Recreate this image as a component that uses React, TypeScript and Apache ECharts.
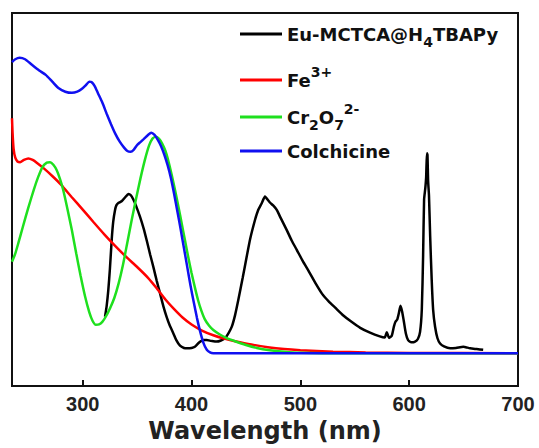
import { useEffect, useRef } from "react";
import * as echarts from "echarts";

// ---- Data ----
const seriesNames = ["Eu-MCTCA@H4TBAPy", "Fe3+", "Cr2O72-", "Colchicine"];
const legendLabels = [
  "{m|Eu-MCTCA@H}{sub|4}{m|TBAPy}",
  "{m|Fe}{sup|3+}",
  "{m|Cr}{sub|2}{m|O}{sub|7}{sup|2-}",
  "{m|Colchicine}",
];
const xTicks = [300, 400, 500, 600, 700];
const xTitle = "Wavelength (nm)";

const euWl = [320.5, 322, 323.5, 325, 326.6, 328, 329.7, 331, 333, 336, 339, 342, 344, 346.5, 349, 352.6, 356, 359, 362, 365, 368, 371, 374, 377, 380, 383.3, 386, 389.4, 393, 396, 400, 403, 406, 408, 411, 414, 418, 423, 427, 431, 434, 437, 440, 443, 447, 450.7, 454, 458.3, 461, 464.5, 467.5, 469, 472, 475, 478.3, 482, 487.5, 492, 496.7, 502, 508, 514, 520, 526, 532, 539.5, 547, 555, 564, 573, 577.5, 579.4, 581.5, 584, 586, 587.5, 589, 590.5, 592, 593.5, 595, 597, 599, 602, 605, 608, 610, 611.6, 612.8, 613.7, 614.8, 615.6, 616.3, 616.8, 617.4, 618.2, 619.3, 620.7, 622, 623.8, 626, 628.4, 632, 637.6, 643, 649.8, 652, 656, 662, 668];
const euVal = [18.6, 21.5, 25.7, 31.5, 39.1, 44.0, 47.2, 48.5, 49.1, 49.6, 50.6, 51.5, 51.2, 50.0, 48.3, 45.4, 42.2, 38.8, 35.2, 31.8, 28.2, 24.9, 21.5, 18.6, 16.2, 14.1, 12.3, 10.8, 10.2, 10.1, 10.2, 10.5, 11.4, 11.9, 12.3, 12.3, 12.1, 11.9, 12.2, 12.9, 14.2, 15.9, 19.0, 23.1, 29.0, 34.7, 39.6, 44.5, 47.0, 49.0, 50.8, 50.3, 49.2, 48.4, 47.2, 45.0, 41.8, 39.0, 36.5, 33.6, 30.6, 27.5, 24.7, 22.7, 21.0, 18.9, 17.2, 15.6, 14.3, 13.3, 13.0, 14.4, 12.9, 13.5, 16.0, 17.3, 17.8, 19.5, 21.5, 20.0, 17.5, 14.0, 12.3, 11.7, 11.8, 12.6, 14.5, 20.5, 35.0, 50.0, 53.0, 56.0, 62.4, 62.0, 55.0, 51.0, 40.0, 28.4, 20.5, 15.9, 12.8, 11.4, 10.6, 10.1, 10.2, 10.5, 10.4, 10.1, 9.9, 9.7];

const feWl = [235, 235.5, 236.5, 238, 240, 242.5, 246, 250, 254, 258, 264, 272, 280, 290, 300, 310, 320, 330, 340, 350, 360, 368, 376, 384, 392, 400, 410, 420, 430, 440, 455, 470, 485, 500, 530, 560, 600, 700];
const feVal = [71.8, 68.0, 63.5, 61.2, 60.2, 60.0, 60.6, 61.0, 60.6, 59.8, 58.4, 56.3, 54.0, 50.6, 47.3, 43.9, 40.6, 37.5, 34.6, 31.9, 29.0, 26.2, 23.2, 20.6, 18.3, 16.5, 14.8, 13.6, 12.7, 12.0, 11.1, 10.4, 9.9, 9.6, 9.2, 9.0, 8.85, 8.8];

const crWl = [235, 238, 241, 245, 250, 255, 259, 263, 267, 270, 273, 276, 279, 282, 286, 290, 294, 298, 302, 306, 309, 312, 315, 318, 321, 325, 329, 333, 337, 341, 345, 349, 353, 357, 361, 364, 367, 370, 373, 376, 379, 382, 385, 388, 391, 394, 397, 400, 403, 406, 409, 412, 416, 420, 426, 432, 440, 450, 460, 472, 485, 500, 520, 700];
const crVal = [33.3, 35.5, 38.5, 42.7, 47.8, 52.6, 56.0, 58.7, 59.9, 60.0, 59.3, 57.9, 55.6, 52.6, 47.4, 41.8, 35.6, 29.6, 24.2, 19.8, 17.5, 16.4, 16.5, 17.2, 18.5, 20.8, 23.6, 27.5, 32.5, 38.5, 44.5, 50.2, 55.6, 60.5, 64.5, 66.3, 66.8, 66.3, 65.0, 63.0, 60.0, 56.3, 52.3, 48.0, 43.5, 39.0, 34.5, 30.3, 26.5, 23.0, 20.2, 18.0, 16.2, 15.0, 13.8, 12.9, 12.0, 11.0, 10.2, 9.6, 9.2, 8.9, 8.8, 8.8];

const colWl = [235, 238, 242, 247, 253, 260, 266, 272, 278, 284, 290, 295, 299, 303, 306, 308, 311, 314, 318, 322, 326, 330, 334, 338, 341, 344, 347, 350, 353, 356, 360, 363, 366, 369, 372, 375, 378, 381, 384, 387, 390, 393, 396, 399, 402, 405, 408, 411, 414, 417, 420, 700];
const colVal = [86.8, 87.6, 88.0, 87.6, 86.2, 84.6, 83.4, 81.6, 79.8, 78.9, 78.6, 78.9, 79.6, 80.7, 81.6, 81.5, 80.4, 78.5, 76.0, 73.0, 70.2, 67.6, 65.5, 63.9, 63.0, 62.8, 63.4, 64.6, 65.4, 66.2, 67.3, 67.9, 67.3, 66.0, 64.3, 62.0, 59.2, 55.8, 51.5, 46.8, 42.0, 37.0, 32.0, 27.0, 22.5, 18.2, 14.5, 11.5, 9.7, 9.0, 8.8, 8.8];

const seriesColors = ["#000000", "#ff0000", "#1ee01e", "#1010f0"];

const zip = (xs: number[], ys: number[]) => xs.map((x, i) => [x, ys[i]]);
const seriesData = [zip(euWl, euVal), zip(feWl, feVal), zip(crWl, crVal), zip(colWl, colVal)];

export default function App() {
  const ref = useRef<HTMLDivElement>(null);
  useEffect(() => {
    if (!ref.current) return;
    const chart = echarts.init(ref.current, null, { renderer: "svg" });
    const legendTops = [25, 65, 102, 142];
    const rich = {
      m: { fontSize: 18, fontWeight: "bold", fontFamily: "DejaVu Sans", color: "#111", lineHeight: 30 },
      sub: { fontSize: 14, fontWeight: "bold", fontFamily: "DejaVu Sans", color: "#111", lineHeight: 12, verticalAlign: "bottom" },
      sup: { fontSize: 14, fontWeight: "bold", fontFamily: "DejaVu Sans", color: "#111", lineHeight: 17, verticalAlign: "top" },
    };
    chart.setOption({
      animation: false,
      backgroundColor: "#ffffff",
      grid: {
        left: 12,
        right: 21,
        top: 13,
        bottom: 62,
        show: true,
        borderColor: "#111",
        borderWidth: 2,
        containLabel: false,
      },
      legend: seriesNames.map((n, i) => ({
        data: [n],
        left: 240,
        top: legendTops[i],
        orient: "vertical",
        padding: 0,
        itemWidth: 42,
        itemHeight: 3,
        icon: "rect",
        selectedMode: false,
        formatter: (name: string) => legendLabels[seriesNames.indexOf(name)],
        textStyle: { rich },
      })),
      xAxis: {
        type: "value",
        min: 235,
        max: 700,
        axisLine: { show: true, lineStyle: { color: "#111", width: 2 } },
        axisTick: { show: true, inside: true, length: 6, lineStyle: { color: "#111", width: 2 }, customValues: xTicks },
        axisLabel: {
          customValues: xTicks,
          showMinLabel: true,
          showMaxLabel: true,
          margin: 8,
          fontSize: 20,
          fontWeight: "bold",
          fontFamily: "Liberation Sans, Arial, sans-serif",
          color: "#222",
        },
        splitLine: { show: false },
        name: xTitle,
        nameLocation: "middle",
        nameGap: 33,
        nameTextStyle: { fontSize: 24, fontWeight: "bold", fontFamily: "DejaVu Sans", color: "#222" },
      },
      yAxis: {
        type: "value",
        min: 0,
        max: 100,
        axisLine: { show: false },
        axisTick: { show: false },
        axisLabel: { show: false },
        splitLine: { show: false },
      },
      series: seriesNames.map((n, i) => ({
        name: n,
        type: "line",
        data: seriesData[i],
        symbol: "none",
        showSymbol: false,
        smooth: 0.2,
        color: seriesColors[i],
        itemStyle: { color: seriesColors[i] },
        lineStyle: { color: seriesColors[i], width: 2.5 },
        silent: true,
      })),
    });
    return () => chart.dispose();
  }, []);
  return (
    <div
      ref={ref}
      style={{ position: "fixed", left: 0, top: 0, width: 539, height: 448, background: "#fff" }}
    />
  );
}
